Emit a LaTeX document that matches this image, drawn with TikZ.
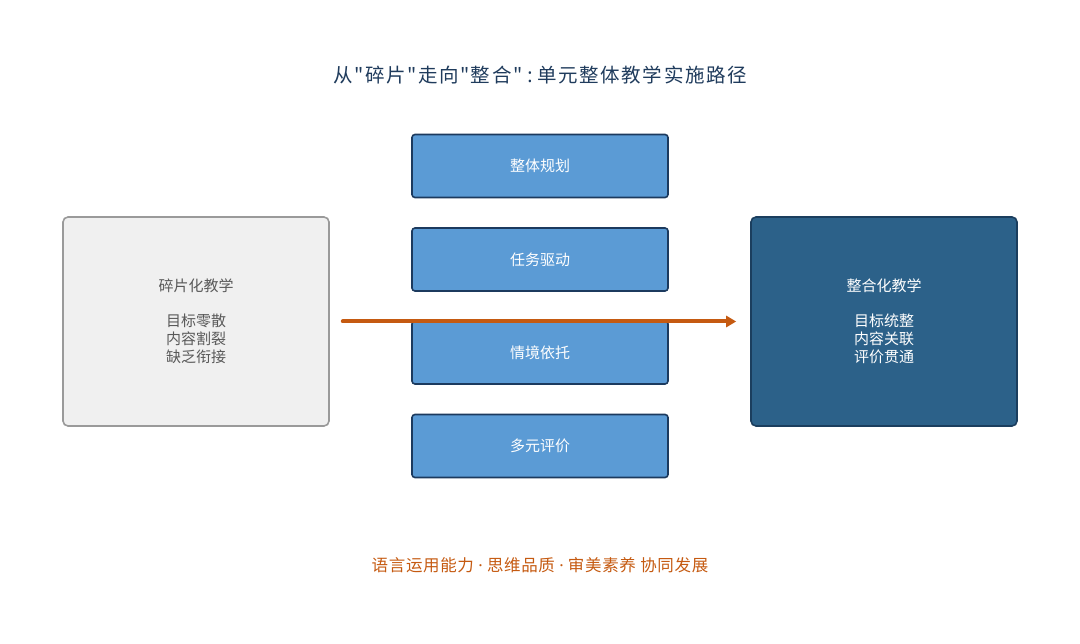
\documentclass[tikz,border=0pt]{standalone}
\usepackage{fontspec}
\usepackage{xcolor}
\usepackage{tikz}
\usetikzlibrary{arrows.meta,positioning}
\setmainfont{Noto Sans CJK SC}[Ligatures=TeXOff]
\newfontfamily\latinfont{Noto Sans}[Ligatures=TeXOff]
\newfontfamily\titlefont{Noto Sans CJK SC}[Ligatures=TeXOff,LetterSpace=8]
\newfontfamily\goalfont{Noto Sans CJK SC}[Ligatures=TeXOff,LetterSpace=4]
\definecolor{titleblue}{HTML}{1F3B5C}
\definecolor{stepfill}{HTML}{5B9BD5}
\definecolor{stepline}{HTML}{1C3A5E}
\definecolor{darkfill}{HTML}{2C6189}
\definecolor{darkline}{HTML}{1B3E5E}
\definecolor{greyfill}{HTML}{F0F0F0}
\definecolor{greyline}{HTML}{9A9A9A}
\definecolor{flow}{HTML}{C55A11}
\newcommand{\sep}{{\latinfont\ ·\ }}
\tikzset{stepbox/.style={rectangle,rounded corners=3pt,draw=stepline,fill=stepfill,line width=1.6pt,minimum width=256pt,minimum height=63pt,text=white,font=\fontsize{15}{18}\selectfont},
  sidebox/.style={rectangle,rounded corners=5pt,line width=1.6pt,minimum width=266pt,minimum height=209pt,align=center,font=\fontsize{15}{18}\selectfont}}

\begin{document}
\begin{tikzpicture}[x=1pt,y=-1pt,>=stealth]
    \useasboundingbox (0,0) rectangle (1080,644);
    \node[font=\titlefont\fontsize{19.5}{22}\selectfont,text=titleblue] (title) at (540,75) {从"碎片"走向"整合"{\latinfont\ :\ }单元整体教学实施路径};

    \node[sidebox,draw=greyline,fill=greyfill,text=black!65] (frag) at (196,321.5) {碎片化教学\\[17pt]目标零散\\内容割裂\\缺乏衔接};
    \node[sidebox,draw=darkline,fill=darkfill,text=white] (integ) at (884,321.5) {整合化教学\\[17pt]目标统整\\内容关联\\评价贯通};

    \node[stepbox] (s1) at (540,166) {整体规划};
    \node[stepbox] (s2) at (540,259.5) {任务驱动};
    \node[stepbox] (s3) at (540,352.5) {情境依托};
    \node[stepbox] (s4) at (540,446) {多元评价};

    \draw [flow,line width=4pt,line cap=round,-{Triangle[length=10pt,width=11pt]}] ([xshift=13pt]frag.east) -- ([xshift=-14pt]integ.west);

    \node[font=\goalfont\fontsize{16.5}{20}\selectfont,text=flow] (goal) at (540,565) {语言运用能力\sep 思维品质\sep 审美素养 协同发展};
\end{tikzpicture}
\end{document}
